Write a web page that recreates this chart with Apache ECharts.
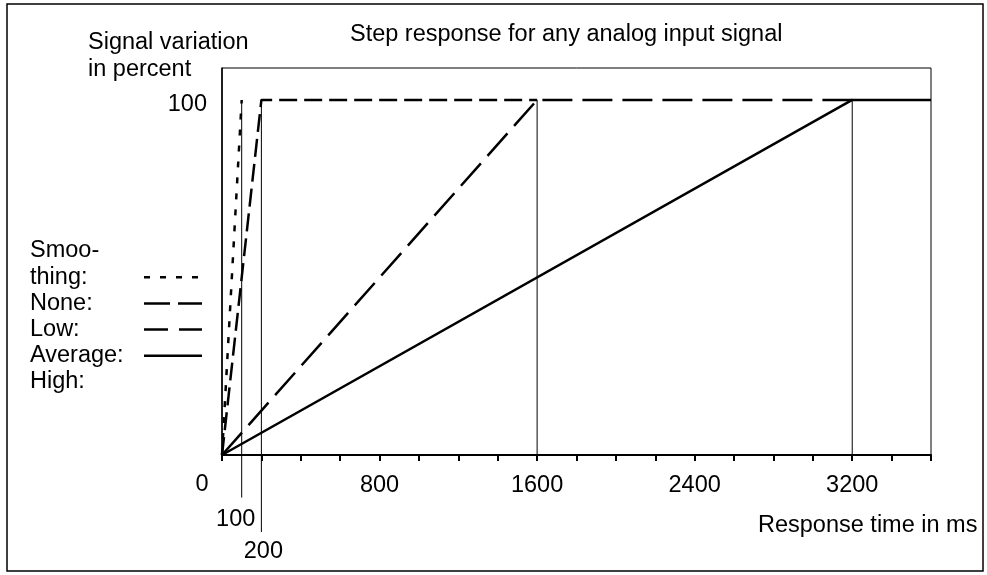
<!DOCTYPE html>
<html>
<head>
<meta charset="utf-8">
<script src="https://cdn.jsdelivr.net/npm/echarts@6/dist/echarts.min.js"></script>
<style>
html,body{margin:0;padding:0;background:#fff;}
#chart{width:987px;height:575px;}
</style>
</head>
<body>
<div id="chart"></div>
<script>
// ---- data ----
const chartTitle = 'Step response for any analog input signal';
const yAxisTitle = 'Signal variation\nin percent';
const xAxisTitle = 'Response time in ms';

const noneX = [0, 100];          const noneY = [0, 100];
const lowX = [0, 200, 1600];     const lowY = [0, 100, 100];
const avgX = [0, 1600, 3200];    const avgY = [0, 100, 100];
const highX = [0, 3200, 3600];   const highY = [0, 100, 100];

const guideX = [100, 200, 1600, 3200];
const guideTopY = [100, 100, 100, 100];
const guideBottomY = [-12, -21.7, 0, 0];

const xTickLabels = [800, 1600, 2400, 3200];
const xExtraLabelX = [0, 100, 200];
const xExtraLabelText = ['0', '100', '200'];
const yTickLabels = [100];

const legendTexts = ['Smoo-', 'thing:', 'None:', 'Low:', 'Average:', 'High:'];

// ---- helpers ----
const FONT = 'Liberation Sans, Arial, sans-serif';
const FS = 23.5;
function pairs(xs, ys) { return xs.map((x, i) => [x, ys[i]]); }

const lineSeries = [
  { name: 'None', data: pairs(noneX, noneY), dash: [6, 10] },
  { name: 'Low', data: pairs(lowX, lowY), dash: [18, 7] },
  { name: 'Average', data: pairs(avgX, avgY), dash: [30, 10] },
  { name: 'High', data: pairs(highX, highY), dash: 'solid' }
].map(s => ({
  type: 'line', name: s.name, data: s.data, symbol: 'none', silent: true,
  lineStyle: { color: '#000', width: 2.5, type: s.dash, cap: 'butt' },
  z: 5
}));

const guideSeries = guideX.map((x, i) => ({
  type: 'line', symbol: 'none', silent: true, clip: false,
  data: [[x, guideTopY[i]], [x, guideBottomY[i]]],
  lineStyle: { color: '#000', width: 1 },
  z: 3
}));

const extraLabelOffsets = [[-20, 30], [-6, 65], [2, 97]];
const extraLabelSeries = {
  type: 'scatter', symbolSize: 0, silent: true, clip: false,
  itemStyle: { color: '#000', opacity: 1 },
  data: xExtraLabelX.map((x, i) => ({
    value: [x, 0],
    label: {
      show: true, position: 'inside', formatter: xExtraLabelText[i],
      offset: extraLabelOffsets[i], color: '#000', fontSize: FS, fontFamily: FONT,
      textBorderWidth: 0, textShadowBlur: 0, opacity: 1
    }
  }))
};

// legend graphics
const legendTop = 251, legendStep = 26.2;
const legendGraphics = [];
legendTexts.forEach((t, i) => {
  legendGraphics.push({
    type: 'text', left: 30, top: legendTop + i * legendStep - 12,
    style: { text: t, font: FS + 'px ' + FONT, fill: '#000' }
  });
});
const legendDash = [[6, 10], [26, 8], [24, 11], null];
legendDash.forEach((d, i) => {
  const y = legendTop + (i + 1) * legendStep;
  legendGraphics.push({
    type: 'line', shape: { x1: 144, y1: y, x2: 202, y2: y },
    style: { stroke: '#000', lineWidth: 2.5, lineDash: d || null }
  });
});

const chart = echarts.init(document.getElementById('chart'), null, { renderer: 'canvas' });
chart.setOption({
  animation: false,
  backgroundColor: '#fff',
  title: [
    { text: chartTitle, left: 345, top: 18,
      textStyle: { fontFamily: FONT, fontSize: FS, fontWeight: 'normal', color: '#000' } },
    { text: yAxisTitle, left: 83, top: 24,
      textStyle: { fontFamily: FONT, fontSize: FS, fontWeight: 'normal', color: '#000', lineHeight: 27 } },
    { text: xAxisTitle, left: 753, top: 509,
      textStyle: { fontFamily: FONT, fontSize: FS, fontWeight: 'normal', color: '#000' } }
  ],
  grid: { left: 222, right: 56, top: 68, bottom: 120, show: true, borderColor: '#000', borderWidth: 1, containLabel: false },
  xAxis: {
    type: 'value', min: 0, max: 3600, interval: 200,
    axisLine: { show: true, lineStyle: { color: '#000', width: 2 } },
    axisTick: { show: true, length: 6, inside: false, lineStyle: { color: '#000', width: 2 } },
    splitLine: { show: false },
    axisLabel: {
      margin: 19, color: '#000', fontSize: FS, fontFamily: FONT, lineHeight: 24,
      showMinLabel: true, showMaxLabel: true,
      formatter: v => yTickLabels && xTickLabels.includes(v) ? String(v) : ''
    }
  },
  yAxis: {
    type: 'value', min: 0, max: 109, interval: 100,
    axisLine: { show: true, lineStyle: { color: '#000', width: 1.5 } },
    axisTick: { show: false },
    splitLine: { show: false },
    axisLabel: {
      margin: 15, color: '#000', fontSize: FS, fontFamily: FONT,
      verticalAlign: 'top', lineHeight: 9,
      formatter: v => yTickLabels.includes(v) ? String(v) : ''
    }
  },
  series: [...guideSeries, ...lineSeries, extraLabelSeries],
  graphic: [
    { type: 'rect', shape: { x: 7, y: 4, width: 976, height: 567 },
      style: { fill: 'none', stroke: '#000', lineWidth: 1.5 }, z: 100 },
    ...legendGraphics
  ]
});
</script>
</body>
</html>
